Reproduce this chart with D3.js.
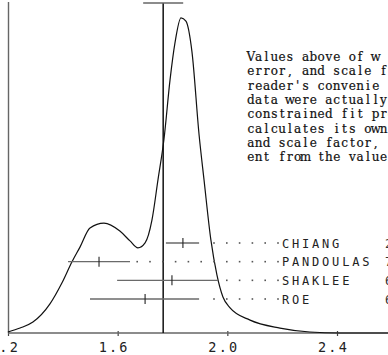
<!DOCTYPE html>
<html>
<head>
<meta charset="utf-8">
<script src="https://cdn.jsdelivr.net/npm/d3@7"></script>
<style>
  html, body { margin: 0; padding: 0; background: #fff; overflow: hidden; }
  svg { display: block; }
</style>
</head>
<body>
<svg id="chart" width="388" height="355"></svg>
<script>
// ---- data ----
const densityX = [1.200, 1.244, 1.291, 1.353, 1.397, 1.433, 1.463, 1.499, 1.550, 1.608, 1.645, 1.674, 1.700, 1.725, 1.747, 1.769, 1.791, 1.809, 1.831, 1.849, 1.871, 1.897, 1.915, 1.940, 1.962, 1.984, 2.010, 2.083, 2.192, 2.301, 2.411, 2.586];
const densityY = [0.003, 0.015, 0.033, 0.088, 0.152, 0.215, 0.261, 0.318, 0.333, 0.309, 0.279, 0.258, 0.273, 0.342, 0.464, 0.588, 0.767, 0.879, 0.955, 0.945, 0.852, 0.600, 0.464, 0.282, 0.176, 0.109, 0.076, 0.039, 0.015, 0.003, 0.000, 0.000];

const experiments = ["CHIANG", "PANDOULAS", "SHAKLEE", "ROE"];
const expValue = [1.838, 1.532, 1.798, 1.700];
const expLow   = [1.776, 1.419, 1.598, 1.499];
const expHigh  = [1.897, 1.645, 1.966, 1.897];
const expExtra = ["2", "7", "6", "6"];

const refValue = 1.766;
const refCapLow = 1.693;
const refCapHigh = 1.839;

const xTicks = [1.2, 1.6, 2.0, 2.4];
const xTickLabels = ["1.2", "1.6", "2.0", "2.4"];

const noteLines = [
  "Values above of w",
  "error, and scale f",
  "reader's convenie",
  "data were actually",
  "constrained fit pro",
  "calculates its own",
  "and scale factor,",
  "ent from the value"
];

// ---- layout ----
const svg = d3.select("#chart");
const x = d3.scaleLinear().domain([1.2, 2.4]).range([8, 337]);
const y = d3.scaleLinear().domain([0, 1]).range([333, 3]);
const row = d3.scalePoint().domain(experiments).range([243, 299]);

const axisColor = "#666";
const barColor = "#6a6a6a";

// y axis line
svg.append("line")
  .attr("x1", 8.5).attr("x2", 8.5).attr("y1", 2).attr("y2", 333)
  .attr("stroke", axisColor).attr("stroke-width", 1.4);

// x axis
const xAxis = d3.axisBottom(x)
  .tickValues(xTicks)
  .tickFormat((d, i) => xTickLabels[i])
  .tickSize(3)
  .tickPadding(6);
const gx = svg.append("g").attr("transform", "translate(0,333)").call(xAxis);
gx.select(".domain").remove();
gx.append("line").attr("x1", 8).attr("x2", 388).attr("y1", 0).attr("y2", 0)
  .attr("stroke", axisColor).attr("stroke-width", 1.5);
gx.selectAll(".tick line").attr("y1", -2).attr("y2", 3).attr("stroke", "#444").attr("stroke-width", 1.2);
gx.selectAll(".tick text")
  .attr("font-family", "DejaVu Sans Mono, monospace")
  .attr("font-size", 13.5)
  .attr("letter-spacing", 2.2)
  .attr("fill", "#222")
  .attr("dx", -4)
  .attr("dy", null)
  .attr("y", 18.5);

// reference vertical line with cap
svg.append("line")
  .attr("x1", x(refValue)).attr("x2", x(refValue))
  .attr("y1", 3).attr("y2", 333)
  .attr("stroke", "#111").attr("stroke-width", 1.5);
svg.append("line")
  .attr("x1", x(refCapLow)).attr("x2", x(refCapHigh))
  .attr("y1", 3).attr("y2", 3)
  .attr("stroke", "#666").attr("stroke-width", 1.4);

// density curve
const pts = densityX.map((d, i) => [d, densityY[i]]);
svg.append("path")
  .datum(pts)
  .attr("d", d3.line().x(d => x(d[0])).y(d => y(d[1])).curve(d3.curveMonotoneX))
  .attr("fill", "none")
  .attr("stroke", "#111")
  .attr("stroke-width", 1.2);

// experiment error bars, leaders, labels
const labelX = 282;
experiments.forEach((name, i) => {
  const ry = row(name);
  svg.append("line")
    .attr("x1", x(expLow[i])).attr("x2", x(expHigh[i]))
    .attr("y1", ry).attr("y2", ry)
    .attr("stroke", barColor).attr("stroke-width", 1.4);
  svg.append("line")
    .attr("x1", x(expValue[i])).attr("x2", x(expValue[i]))
    .attr("y1", ry - 5).attr("y2", ry + 5)
    .attr("stroke", "#222").attr("stroke-width", 1.1);
  // dotted leader
  const endX = x(expHigh[i]);
  for (let dx = labelX - 4; dx > endX + 6; dx -= 12.8) {
    svg.append("rect")
      .attr("x", dx - 0.8).attr("y", ry - 0.8)
      .attr("width", 1.6).attr("height", 1.6)
      .attr("fill", "#555");
  }
  svg.append("text")
    .attr("x", labelX).attr("y", ry + 4.5)
    .attr("font-family", "DejaVu Sans Mono, monospace")
    .attr("font-size", 12)
    .attr("letter-spacing", 2.8)
    .attr("fill", "#222")
    .text(name);
  svg.append("text")
    .attr("x", 385).attr("y", ry + 4.5)
    .attr("font-family", "DejaVu Sans Mono, monospace")
    .attr("font-size", 12)
    .attr("fill", "#333")
    .text(expExtra[i]);
});

// note text block (typewriter-like: serif glyphs on a fixed pitch)
const pitch = 7.8;
const note = svg.append("g")
  .attr("font-family", "DejaVu Serif, Liberation Serif, serif")
  .attr("font-size", 12)
  .attr("fill", "#111")
  .attr("stroke", "#111")
  .attr("stroke-width", 0.2);
noteLines.forEach((t, i) => {
  const lineG = note.append("text")
    .attr("y", 61 + i * 14.3)
    .attr("xml:space", "preserve");
  // place each character on a fixed pitch, like a typewriter
  t.split("").forEach((ch, k) => {
    if (ch === " ") return;
    lineG.append("tspan")
      .attr("x", 247 + k * pitch + pitch / 2)
      .attr("text-anchor", "middle")
      .text(ch);
  });
});
</script>
</body>
</html>
